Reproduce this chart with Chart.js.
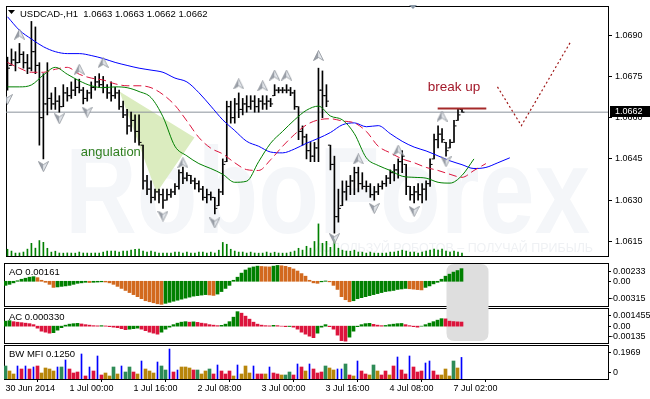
<!DOCTYPE html>
<html>
<head>
<meta charset="utf-8">
<script src="https://cdn.jsdelivr.net/npm/chart.js@4.4.1/dist/chart.umd.min.js"></script>
<style>
  html, body { margin: 0; padding: 0; background: #fff; }
  #wrap { position: relative; width: 650px; height: 399px; overflow: hidden; background: #fff; }
  #wrap canvas { position: absolute; left: 0; }
</style>
</head>
<body>
<div id="wrap">
  <canvas id="c-main" width="650" height="262" style="top:0"></canvas>
  <canvas id="c-ao" width="650" height="45" style="top:262px"></canvas>
  <canvas id="c-ac" width="650" height="37" style="top:307px"></canvas>
  <canvas id="c-mfi" width="650" height="56" style="top:344px"></canvas>
</div>
<script>
// USDCAD H1, 115 bars, axis labels every 16 bars
const SYMBOL = 'USDCAD-,H1';
const xLabels    = ['30 Jun 2014', '1 Jul 00:00', '1 Jul 16:00', '2 Jul 08:00', '3 Jul 00:00', '3 Jul 16:00', '4 Jul 08:00', '7 Jul 02:00'];
const xLabelBars = [0, 16, 32, 48, 64, 80, 96, 112];
const priceTicks = [1.0615, 1.0630, 1.0645, 1.0660, 1.0675, 1.0690];

const opens = [
  1.0680, 1.0679, 1.0681, 1.0680, 1.0683, 1.0680, 1.0678, 1.0684, 1.0679, 1.0660,
  1.0665, 1.0667, 1.0665, 1.0666, 1.0664, 1.0669, 1.0668, 1.0670, 1.0671, 1.0670,
  1.0667, 1.0669, 1.0671, 1.0673, 1.0672, 1.0671, 1.0669, 1.0668, 1.0669, 1.0664,
  1.0661, 1.0657, 1.0659, 1.0655, 1.0650, 1.0637, 1.0634, 1.0631, 1.0633, 1.0632,
  1.0630, 1.0632, 1.0633, 1.0635, 1.0640, 1.0638, 1.0639, 1.0637, 1.0636, 1.0634,
  1.0631, 1.0632, 1.0631, 1.0628, 1.0633, 1.0644, 1.0664, 1.0660, 1.0665, 1.0663,
  1.0665, 1.0664, 1.0666, 1.0664, 1.0666, 1.0665, 1.0666, 1.0668, 1.0670, 1.0670,
  1.0670, 1.0670, 1.0669, 1.0664, 1.0655, 1.0653, 1.0648, 1.0646, 1.0649, 1.0670,
  1.0668, 1.0650, 1.0643, 1.0624, 1.0628, 1.0633, 1.0635, 1.0637, 1.0640, 1.0636,
  1.0635, 1.0635, 1.0632, 1.0633, 1.0635, 1.0636, 1.0638, 1.0640, 1.0641, 1.0644,
  1.0643, 1.0635, 1.0632, 1.0633, 1.0632, 1.0634, 1.0636, 1.0645, 1.0652, 1.0654,
  1.0651, 1.0649, 1.0651, 1.0659, 1.0663
];
const highs = [
  1.0682, 1.0685, 1.0684, 1.0687, 1.0684, 1.0683, 1.0695, 1.0693, 1.0680, 1.0676,
  1.0680, 1.0669, 1.0671, 1.0668, 1.0672, 1.0671, 1.0673, 1.0674, 1.0674, 1.0671,
  1.0670, 1.0673, 1.0675, 1.0676, 1.0675, 1.0672, 1.0673, 1.0671, 1.0670, 1.0666,
  1.0663, 1.0662, 1.0661, 1.0661, 1.0650, 1.0639, 1.0637, 1.0634, 1.0634, 1.0634,
  1.0634, 1.0634, 1.0636, 1.0641, 1.0642, 1.0640, 1.0639, 1.0638, 1.0637, 1.0635,
  1.0634, 1.0633, 1.0631, 1.0634, 1.0645, 1.0666, 1.0666, 1.0667, 1.0669, 1.0667,
  1.0668, 1.0668, 1.0668, 1.0667, 1.0668, 1.0668, 1.0667, 1.0672, 1.0671, 1.0671,
  1.0672, 1.0671, 1.0670, 1.0664, 1.0657, 1.0654, 1.0651, 1.0651, 1.0678, 1.0677,
  1.0672, 1.0650, 1.0646, 1.0634, 1.0637, 1.0637, 1.0639, 1.0642, 1.0642, 1.0640,
  1.0637, 1.0636, 1.0635, 1.0636, 1.0637, 1.0639, 1.0641, 1.0643, 1.0645, 1.0648,
  1.0643, 1.0635, 1.0635, 1.0636, 1.0636, 1.0637, 1.0645, 1.0654, 1.0657, 1.0656,
  1.0651, 1.0652, 1.0659, 1.0663, 1.0663
];
const lows = [
  1.0670, 1.0679, 1.0677, 1.0680, 1.0678, 1.0676, 1.0677, 1.0676, 1.0650, 1.0645,
  1.0661, 1.0663, 1.0663, 1.0662, 1.0664, 1.0666, 1.0667, 1.0668, 1.0669, 1.0665,
  1.0666, 1.0667, 1.0670, 1.0671, 1.0669, 1.0667, 1.0666, 1.0667, 1.0663, 1.0660,
  1.0654, 1.0655, 1.0651, 1.0650, 1.0634, 1.0632, 1.0629, 1.0630, 1.0629, 1.0627,
  1.0630, 1.0631, 1.0632, 1.0634, 1.0636, 1.0637, 1.0636, 1.0634, 1.0633, 1.0630,
  1.0629, 1.0630, 1.0625, 1.0628, 1.0632, 1.0644, 1.0658, 1.0658, 1.0660, 1.0661,
  1.0662, 1.0663, 1.0662, 1.0662, 1.0663, 1.0663, 1.0664, 1.0668, 1.0669, 1.0669,
  1.0669, 1.0668, 1.0663, 1.0652, 1.0650, 1.0645, 1.0644, 1.0644, 1.0644, 1.0660,
  1.0664, 1.0641, 1.0618, 1.0622, 1.0628, 1.0630, 1.0632, 1.0632, 1.0633, 1.0634,
  1.0633, 1.0631, 1.0630, 1.0632, 1.0634, 1.0635, 1.0636, 1.0637, 1.0638, 1.0640,
  1.0632, 1.0630, 1.0629, 1.0630, 1.0629, 1.0630, 1.0635, 1.0645, 1.0649, 1.0651,
  1.0646, 1.0649, 1.0651, 1.0659, 1.0662
];
const closes = [
  1.0678, 1.0681, 1.0680, 1.0683, 1.0680, 1.0678, 1.0684, 1.0679, 1.0660, 1.0665,
  1.0667, 1.0665, 1.0666, 1.0664, 1.0669, 1.0668, 1.0670, 1.0671, 1.0670, 1.0667,
  1.0669, 1.0671, 1.0673, 1.0672, 1.0671, 1.0669, 1.0668, 1.0669, 1.0664, 1.0661,
  1.0657, 1.0659, 1.0655, 1.0651, 1.0637, 1.0634, 1.0631, 1.0633, 1.0632, 1.0630,
  1.0632, 1.0633, 1.0635, 1.0640, 1.0638, 1.0639, 1.0637, 1.0636, 1.0634, 1.0631,
  1.0632, 1.0631, 1.0627, 1.0633, 1.0643, 1.0664, 1.0660, 1.0665, 1.0663, 1.0665,
  1.0664, 1.0666, 1.0664, 1.0666, 1.0665, 1.0666, 1.0665, 1.0670, 1.0670, 1.0670,
  1.0670, 1.0669, 1.0664, 1.0655, 1.0653, 1.0648, 1.0646, 1.0649, 1.0670, 1.0668,
  1.0666, 1.0643, 1.0624, 1.0627, 1.0633, 1.0635, 1.0637, 1.0640, 1.0636, 1.0635,
  1.0635, 1.0632, 1.0633, 1.0635, 1.0636, 1.0638, 1.0640, 1.0641, 1.0644, 1.0646,
  1.0635, 1.0632, 1.0633, 1.0632, 1.0634, 1.0636, 1.0643, 1.0652, 1.0654, 1.0652,
  1.0648, 1.0651, 1.0657, 1.0661, 1.0662
];
const volumes = [
  1040, 760, 450, 470, 610, 1060, 1950, 1210, 2380, 2110,
  1190, 600, 740, 460, 440, 470, 450, 440, 610, 460,
  450, 440, 460, 450, 600, 760, 740, 750, 610, 750,
  760, 900, 1040, 1060, 750, 600, 760, 590, 450, 460,
  440, 460, 610, 600, 450, 600, 460, 450, 610, 590,
  440, 600, 460, 900, 2090, 1810, 1040, 760, 600, 610,
  450, 600, 460, 440, 450, 610, 450, 590, 460, 440,
  450, 600, 760, 1190, 910, 1500, 1210, 2240, 4950, 1960,
  2260, 1340, 2550, 1200, 900, 760, 740, 900, 610, 590,
  450, 600, 460, 440, 450, 460, 600, 610, 750, 900,
  760, 600, 610, 450, 600, 740, 910, 1050, 900, 1060,
  750, 600, 760, 600, 450
];

// Alligator lines, one value every MA_STEP bars (shifted forward past the last bar)
const MA_STEP = 3;
const jaw = [
  1.06967, 1.06918, 1.06886, 1.06858, 1.06840, 1.06833, 1.06833, 1.06826, 1.06815, 1.06801,
  1.06790, 1.06780, 1.06773, 1.06765, 1.06744, 1.06730, 1.06691, 1.06642, 1.06592, 1.06553,
  1.06514, 1.06496, 1.06475, 1.06472, 1.06486, 1.06507, 1.06525, 1.06546, 1.06574, 1.06581,
  1.06567, 1.06571, 1.06542, 1.06514, 1.06493, 1.06479, 1.06461, 1.06443, 1.06429, 1.06415,
  1.06419, 1.06436, 1.06454
];
const teeth = [
  1.06801, 1.06780, 1.06765, 1.06765, 1.06776, 1.06783, 1.06758, 1.06744, 1.06737, 1.06723,
  1.06716, 1.06716, 1.06709, 1.06684, 1.06645, 1.06588, 1.06528, 1.06489, 1.06468, 1.06436,
  1.06411, 1.06408, 1.06447, 1.06496, 1.06539, 1.06574, 1.06592, 1.06596, 1.06588, 1.06581,
  1.06550, 1.06496, 1.06472, 1.06450, 1.06436, 1.06419, 1.06408, 1.06394, 1.06383, 1.06408,
  1.06433
];
const lips = [
  1.06712, 1.06712, 1.06719, 1.06755, 1.06783, 1.06758, 1.06734, 1.06716, 1.06709, 1.06712,
  1.06709, 1.06695, 1.06673, 1.06603, 1.06496, 1.06461, 1.06433, 1.06415, 1.06394, 1.06365,
  1.06369, 1.06440, 1.06507, 1.06550, 1.06592, 1.06627, 1.06642, 1.06606, 1.06592, 1.06542,
  1.06454, 1.06426, 1.06408, 1.06387, 1.06383, 1.06380, 1.06365, 1.06362, 1.06390, 1.06450
];

const aoValues = [
  -0.00052, -0.00039, -0.00020, 0.00007, 0.00026, 0.00039, 0.00052, 0.00059, 0.00046, 0.00013,
  -0.00013, -0.00039, -0.00078, -0.00072, -0.00065, -0.00059, -0.00052, -0.00039, -0.00026, -0.00020,
  -0.00013, -0.00016, -0.00013, -0.00010, -0.00007, -0.00009, -0.00020, -0.00039, -0.00065, -0.00091,
  -0.00117, -0.00144, -0.00170, -0.00196, -0.00222, -0.00248, -0.00261, -0.00274, -0.00287, -0.00294,
  -0.00281, -0.00268, -0.00254, -0.00241, -0.00228, -0.00215, -0.00202, -0.00189, -0.00183, -0.00176,
  -0.00170, -0.00174, -0.00180, -0.00163, -0.00131, -0.00091, -0.00052, 0.00013, 0.00052, 0.00104,
  0.00144, 0.00170, 0.00183, 0.00193, 0.00189, 0.00185, 0.00183, 0.00193, 0.00202, 0.00198,
  0.00191, 0.00177, 0.00157, 0.00131, 0.00098, 0.00065, 0.00013, -0.00020, -0.00026, -0.00007,
  0.00004, -0.00007, -0.00052, -0.00104, -0.00196, -0.00235, -0.00261, -0.00248, -0.00222, -0.00209,
  -0.00196, -0.00183, -0.00170, -0.00157, -0.00144, -0.00131, -0.00124, -0.00117, -0.00104, -0.00098,
  -0.00091, -0.00095, -0.00100, -0.00106, -0.00110, -0.00078, -0.00059, -0.00033, -0.00013, 0.00026,
  0.00065, 0.00091, 0.00117, 0.00137, 0.00161
];
const acValues = [
  0.000401, 0.000441, 0.000360, 0.000320, 0.000280, 0.000240, 0.000200, 0.000120, -0.000160, -0.000401,
  -0.000481, -0.000561, -0.000521, -0.000320, -0.000120, 0.000080, 0.000160, 0.000200, 0.000224, 0.000176,
  0.000120, 0.000080, 0.000040, 0.000024, 0.000040, 0.000016, -0.000040, -0.000080, -0.000120, -0.000200,
  -0.000280, -0.000240, -0.000200, -0.000160, -0.000240, -0.000360, -0.000481, -0.000561, -0.000641, -0.000481,
  -0.000240, -0.000080, 0.000120, 0.000240, 0.000320, 0.000360, 0.000320, 0.000344, 0.000304, 0.000240,
  0.000200, 0.000120, 0.000080, 0.000040, 0.000064, 0.000160, 0.000360, 0.000721, 0.001161, 0.001041,
  0.000801, 0.000561, 0.000320, 0.000160, 0.000080, 0.000040, 0.000024, 0.000064, 0.000040, 0.000000,
  -0.000040, -0.000024, -0.000080, -0.000240, -0.000481, -0.000641, -0.000801, -0.000921, -0.000561, -0.000080,
  0.000120, -0.000040, -0.000240, -0.000721, -0.001161, -0.001202, -0.000881, -0.000401, -0.000040, 0.000120,
  0.000200, 0.000224, 0.000144, 0.000080, 0.000040, 0.000056, 0.000120, 0.000160, 0.000200, 0.000216,
  0.000120, 0.000040, -0.000040, -0.000080, 0.000000, 0.000120, 0.000240, 0.000360, 0.000481, 0.000601,
  0.000585, 0.000401, 0.000368, 0.000344, 0.000330
];
const mfiValues = [
  0.0753, 0.0463, 0.0290, 0.0753, 0.0579, 0.0753, 0.0579, 0.0695, 0.0753, 0.0347,
  0.0637, 0.0579, 0.0463, 0.0695, 0.0695, 0.1100, 0.0579, 0.0347, 0.0405, 0.1448,
  0.0174, 0.0695, 0.0463, 0.1332, 0.0232, 0.0347, 0.0174, 0.0695, 0.0290, 0.0753,
  0.0405, 0.0695, 0.0405, 0.0290, 0.1042, 0.0579, 0.0463, 0.0347, 0.0984, 0.0753,
  0.0521, 0.1737, 0.0405, 0.0521, 0.0695, 0.0695, 0.0637, 0.0521, 0.0521, 0.0290,
  0.0463, 0.0579, 0.0290, 0.0811, 0.0463, 0.0290, 0.0463, 0.0174, 0.0811, 0.0290,
  0.0753, 0.0347, 0.0753, 0.0290, 0.0290, 0.0290, 0.0695, 0.0347, 0.0290, 0.0232,
  0.0232, 0.0405, 0.0232, 0.0869, 0.0695, 0.0463, 0.0869, 0.0579, 0.0347, 0.0405,
  0.0753, 0.0637, 0.0521, 0.0579, 0.0579, 0.0869, 0.0232, 0.0174, 0.1042, 0.0463,
  0.0290, 0.0232, 0.0811, 0.0463, 0.0232, 0.0463, 0.0232, 0.0753, 0.1274, 0.0521,
  0.0290, 0.1332, 0.0695, 0.0405, 0.0463, 0.0926, 0.1042, 0.0463, 0.0232, 0.0232,
  0.0579, 0.0174, 0.1042, 0.0637, 0.1250
];
// G = green, F = fade, B = fake, S = squat
const mfiZones = ('GFFBSBSBSF' + 'FFFBGBSSSB' + 'SBSBSFFGFB' + 'GGSFBFFFBG' + 'GBSBFFFSGF' +
                  'FGSBSSSFBF' + 'FFBSSFBSSF' + 'GGSBSFBSSS' + 'GFFBBGSFBS' + 'SFGFSSFSBS' +
                  'SBSSSBBSSF' + 'FFGFB').split('');

const fractalUp   = [[3, 1.06904], [18, 1.06776], [24, 1.06801], [44, 1.06436], [58, 1.06723], [64, 1.06716],
                     [67, 1.06755], [70, 1.06755], [78, 1.06826], [88, 1.06450], [98, 1.06482], [109, 1.06606]];
const fractalDown = [[0, 1.06666], [9, 1.06422], [13, 1.06596], [20, 1.06620], [39, 1.06242], [52, 1.06217],
                     [82, 1.06160], [92, 1.06270], [102, 1.06259], [110, 1.06440]];

// hand-drawn objects on the chart (bar index, price)
const angulationArea = [[28.1, 1.06695], [46.9, 1.06528], [37.4, 1.06327], [28.1, 1.06695]];
const breakUpLine    = [[107.9, 1.06633], [120.1, 1.06633]];
const projection     = [[122.9, 1.06712], [128.9, 1.06571], [141.1, 1.06872]];
const angulationText = [18.4, 1.06475];
const breakUpText    = [105.4, 1.06709];
const highlightBars  = [110.25, 120.75];

const aoRange  = [-0.00315, 0.00233];
const acRange  = [-0.00135, 0.001455];
const mfiRange = [0, 0.1969];

const X_MIN = -0.375, X_MAX = 150.625;
const PRICE_MIN = 1.060969, PRICE_MAX = 1.070061;
const VOLUME_MAX = 38550;

const FAMILY = '"Liberation Sans", Arial, sans-serif';
const AXIS_FONT = { family: FAMILY, size: 9 };
const last = closes.length - 1;
const lastPrice = closes[last];

function fmt(v) { return v.toFixed(4); }

function arrowImage(up) {
    const c = document.createElement('canvas');
    c.width = 11; c.height = 11;
    const g = c.getContext('2d');
    if (!up) { g.translate(0, 11); g.scale(1, -1); }
    g.beginPath(); g.moveTo(5.5, 0.5); g.lineTo(0.5, 10.5); g.lineTo(5.5, 7.5); g.closePath();
    g.fillStyle = '#9a9fa8'; g.fill();
    g.beginPath(); g.moveTo(5.5, 0.5); g.lineTo(10.5, 10.5); g.lineTo(5.5, 7.5); g.closePath();
    g.fillStyle = '#e4e7ec'; g.fill();
    g.beginPath(); g.moveTo(5.5, 0.5); g.lineTo(10.5, 10.5); g.lineTo(5.5, 7.5); g.lineTo(0.5, 10.5); g.closePath();
    g.strokeStyle = '#8b9098'; g.lineWidth = 0.8; g.stroke();
    return c;
}

function frame(chart) {
    const { ctx, chartArea: a } = chart;
    ctx.save();
    ctx.strokeStyle = '#000';
    ctx.lineWidth = 1;
    ctx.strokeRect(a.left + 0.5, a.top + 0.5, a.right - a.left, a.bottom - a.top);
    ctx.restore();
}

function panelTitle(chart, text) {
    const { ctx, chartArea: a } = chart;
    ctx.save();
    ctx.font = `9.5px ${FAMILY}`;
    ctx.fillStyle = '#000';
    ctx.textBaseline = 'middle';
    ctx.fillText(text, 9, a.top + 9);
    ctx.restore();
}

function sideLabels(chart, items) {
    const { ctx, chartArea: a } = chart;
    ctx.save();
    ctx.font = `9px ${FAMILY}`;
    ctx.fillStyle = '#000';
    ctx.strokeStyle = '#000';
    ctx.textBaseline = 'middle';
    for (const [text, py] of items) {
        const yy = Math.round(py) + 0.5;
        ctx.beginPath(); ctx.moveTo(a.right, yy); ctx.lineTo(a.right + 3, yy); ctx.stroke();
        ctx.fillText(text, a.right + (text[0] === '-' ? 2 : 5), yy);
    }
    ctx.restore();
}

function highlight(chart, pageTop) {
    // grey rounded box behind the last AO / AC bars, spans both panels
    const { ctx, scales: { x } } = chart;
    const x0 = x.getPixelForValue(highlightBars[0]), x1 = x.getPixelForValue(highlightBars[1]);
    const y0 = 264 - pageTop, y1 = 341 - pageTop, r = 8;
    ctx.save();
    ctx.fillStyle = '#dedede';
    ctx.beginPath();
    ctx.moveTo(x0 + r, y0); ctx.lineTo(x1 - r, y0); ctx.quadraticCurveTo(x1, y0, x1, y0 + r);
    ctx.lineTo(x1, y1 - r); ctx.quadraticCurveTo(x1, y1, x1 - r, y1);
    ctx.lineTo(x0 + r, y1); ctx.quadraticCurveTo(x0, y1, x0, y1 - r);
    ctx.lineTo(x0, y0 + r); ctx.quadraticCurveTo(x0, y0, x0 + r, y0);
    ctx.fill();
    ctx.restore();
}

function baseOptions(yMin, yMax, padTop, padBottom) {
    return {
        responsive: false,
        animation: false,
        devicePixelRatio: 1,
        events: [],
        layout: { padding: { left: 4, right: 42, top: padTop, bottom: padBottom } },
        plugins: { legend: { display: false }, tooltip: { enabled: false } },
        scales: {
            x: { type: 'linear', min: X_MIN, max: X_MAX, offset: false, display: false },
            y: { type: 'linear', min: yMin, max: yMax, display: false }
        }
    };
}

const upArrow = arrowImage(true);
const downArrow = arrowImage(false);

// ---------- main price panel ----------
const mainOptions = baseOptions(PRICE_MIN, PRICE_MAX, 4, 1);
mainOptions.layout.padding.right = 0;
mainOptions.scales.y = {
    type: 'linear', position: 'right', min: PRICE_MIN, max: PRICE_MAX,
    afterBuildTicks: s => { s.ticks = priceTicks.map(value => ({ value })); },
    afterFit: s => { s.width = 42; s.paddingTop = 0; s.paddingBottom = 0; },
    grid: { drawOnChartArea: false, drawTicks: true, tickLength: 4, color: '#000' },
    border: { display: false },
    ticks: { padding: 3, color: '#000', font: AXIS_FONT, callback: v => fmt(v) }
};
mainOptions.scales.vol = { type: 'linear', min: 0, max: VOLUME_MAX, display: false };

new Chart(document.getElementById('c-main'), {
    type: 'bar',
    data: {
        datasets: [
            { type: 'line', data: angulationArea.map(([x, y]) => ({ x, y })), fill: 'shape',
              backgroundColor: '#dbecbf', borderWidth: 0, pointRadius: 0, order: 20 },
            { type: 'bar', yAxisID: 'vol', data: volumes.map((v, i) => ({ x: i, y: v })),
              backgroundColor: '#008000', barThickness: 1, maxBarThickness: 1, grouped: false, order: 18 },
            { type: 'line', data: [{ x: X_MIN, y: lastPrice }, { x: X_MAX, y: lastPrice }],
              borderColor: '#8a929b', borderWidth: 1, pointRadius: 0, order: 16 },
            { type: 'bar', data: highs.map((h, i) => ({ x: i, y: [lows[i], h] })),
              backgroundColor: '#000', barThickness: 1, maxBarThickness: 1, grouped: false, order: 8 },
            { type: 'scatter', data: opens.map((o, i) => ({ x: i - 0.375, y: o })),
              pointStyle: 'line', pointRadius: 1, borderColor: '#000', borderWidth: 1, order: 7 },
            { type: 'scatter', data: closes.map((c, i) => ({ x: i + 0.375, y: c })),
              pointStyle: 'line', pointRadius: 1, borderColor: '#000', borderWidth: 1, order: 7 },
            { type: 'line', data: jaw.map((v, k) => ({ x: k * MA_STEP, y: v })), borderColor: '#0000ff',
              borderWidth: 1, pointRadius: 0, cubicInterpolationMode: 'monotone', order: 5 },
            { type: 'line', data: teeth.map((v, k) => ({ x: k * MA_STEP, y: v })), borderColor: '#dc143c',
              borderWidth: 1, borderDash: [8, 4], pointRadius: 0, cubicInterpolationMode: 'monotone', order: 4 },
            { type: 'line', data: lips.map((v, k) => ({ x: k * MA_STEP, y: v })), borderColor: '#008000',
              borderWidth: 1, pointRadius: 0, cubicInterpolationMode: 'monotone', order: 3 },
            { type: 'line', data: breakUpLine.map(([x, y]) => ({ x, y })), borderColor: '#a52a2a',
              borderWidth: 2, pointRadius: 0, order: 2 },
            { type: 'line', data: projection.map(([x, y]) => ({ x, y })), borderColor: '#a01818',
              borderWidth: 1.2, borderDash: [2, 2.5], pointRadius: 0, order: 2 },
            { type: 'scatter', data: fractalUp.map(([x, y]) => ({ x, y })), pointStyle: upArrow,
              pointRadius: 5, order: 1 },
            { type: 'scatter', data: fractalDown.map(([x, y]) => ({ x, y })), pointStyle: downArrow,
              pointRadius: 5, order: 1 }
        ]
    },
    options: mainOptions,
    plugins: [{
        id: 'mainDecor',
        beforeDatasetsDraw(chart) {
            const { ctx, chartArea: a } = chart;
            ctx.save();
            ctx.beginPath(); ctx.rect(a.left, a.top, a.right - a.left, a.bottom - a.top); ctx.clip();
            ctx.textBaseline = 'alphabetic';
            ctx.fillStyle = '#f4f6f9';
            ctx.font = `bold 123px ${FAMILY}`;
            let w = ctx.measureText('RoboForex').width;
            ctx.save(); ctx.translate(65, 233); ctx.scale(525 / w, 1); ctx.fillText('RoboForex', 0, 0); ctx.restore();
            const sub = 'ИСПОЛЬЗУЙ РОБОТОВ – ПОЛУЧАЙ ПРИБЫЛЬ';
            ctx.fillStyle = '#eff1f4';
            ctx.font = `12px ${FAMILY}`;
            w = ctx.measureText(sub).width;
            ctx.save(); ctx.translate(313, 252); ctx.scale(280 / w, 1); ctx.fillText(sub, 0, 0); ctx.restore();
            ctx.restore();
            frame(chart);
        },
        afterDatasetsDraw(chart) {
            const { ctx, chartArea: a, scales: { x, y } } = chart;
            ctx.save();
            // symbol header
            ctx.fillStyle = '#000';
            ctx.beginPath(); ctx.moveTo(8, 10); ctx.lineTo(15, 10); ctx.lineTo(11.5, 14); ctx.closePath(); ctx.fill();
            ctx.font = `9.5px ${FAMILY}`;
            ctx.textBaseline = 'middle';
            ctx.fillText(`${SYMBOL}  ${fmt(opens[last])} ${fmt(highs[last])} ${fmt(lows[last])} ${fmt(closes[last])}`, 20, a.top + 8.5);
            // chart shift marker
            ctx.fillStyle = '#8796a5';
            ctx.beginPath(); ctx.moveTo(409, 5); ctx.lineTo(417, 5); ctx.lineTo(413, 9); ctx.closePath(); ctx.fill();
            // text objects
            ctx.font = `13px ${FAMILY}`;
            ctx.fillStyle = '#2f7f1f';
            ctx.fillText('angulation', x.getPixelForValue(angulationText[0]), y.getPixelForValue(angulationText[1]));
            ctx.font = `13.5px ${FAMILY}`;
            ctx.fillStyle = '#a3192a';
            ctx.fillText('break up', x.getPixelForValue(breakUpText[0]), y.getPixelForValue(breakUpText[1]));
            ctx.restore();
        },
        afterDraw(chart) {
            const { ctx, chartArea: a, scales: { y } } = chart;
            const py = Math.round(y.getPixelForValue(lastPrice));
            ctx.save();
            ctx.fillStyle = '#000';
            ctx.fillRect(a.right + 2, py - 6, 40, 11);
            ctx.fillStyle = '#fff';
            ctx.font = `9px ${FAMILY}`;
            ctx.textBaseline = 'middle';
            ctx.fillText(fmt(lastPrice), a.right + 7, py);
            ctx.restore();
        }
    }]
});

// ---------- AO ----------
const AO_UP = '#008000', AO_DOWN = '#d2691e';
new Chart(document.getElementById('c-ao'), {
    type: 'bar',
    data: {
        datasets: [{
            data: aoValues.map((v, i) => ({ x: i, y: v })),
            backgroundColor: aoValues.map((v, i) => (i === 0 || v >= aoValues[i - 1]) ? AO_UP : AO_DOWN),
            barThickness: 3, maxBarThickness: 3, grouped: false
        }]
    },
    options: baseOptions(aoRange[0], aoRange[1], 1, 1),
    plugins: [{
        id: 'aoDecor',
        beforeDatasetsDraw(chart) { frame(chart); highlight(chart, 262); },
        afterDatasetsDraw(chart) {
            const { chartArea: a, scales: { y } } = chart;
            panelTitle(chart, `AO ${aoValues[last].toFixed(5)}`);
            sideLabels(chart, [[String(aoRange[1]), a.top + 8], ['0.00', y.getPixelForValue(0)], [String(aoRange[0]), a.bottom - 8]]);
        }
    }]
});

// ---------- AC ----------
const AC_UP = '#008000', AC_DOWN = '#dc143c';
new Chart(document.getElementById('c-ac'), {
    type: 'bar',
    data: {
        datasets: [{
            data: acValues.map((v, i) => ({ x: i, y: v })),
            backgroundColor: acValues.map((v, i) => (i === 0 || v >= acValues[i - 1]) ? AC_UP : AC_DOWN),
            barThickness: 3, maxBarThickness: 3, grouped: false
        }]
    },
    options: baseOptions(acRange[0], acRange[1], 1, 1),
    plugins: [{
        id: 'acDecor',
        beforeDatasetsDraw(chart) { frame(chart); highlight(chart, 307); },
        afterDatasetsDraw(chart) {
            const { chartArea: a, scales: { y } } = chart;
            panelTitle(chart, `AC ${acValues[last].toFixed(6)}`);
            sideLabels(chart, [[String(acRange[1]), a.top + 7], ['0.00', y.getPixelForValue(0)], [String(acRange[0]), a.bottom - 7]]);
        }
    }]
});

// ---------- BW MFI ----------
const ZONE_COLORS = { G: '#2e8b57', F: '#b8860b', B: '#0000ff', S: '#dc143c' };
const thick = mfiValues.map((v, i) => ({ x: i, y: v, z: mfiZones[i] })).filter(p => p.z !== 'B');
const thin  = mfiValues.map((v, i) => ({ x: i, y: v, z: mfiZones[i] })).filter(p => p.z === 'B');

const mfiOptions = baseOptions(mfiRange[0], mfiRange[1], 1, 0);
mfiOptions.scales.x = {
    type: 'linear', min: X_MIN, max: X_MAX, offset: false, position: 'bottom',
    afterBuildTicks: s => { s.ticks = xLabelBars.map(value => ({ value })); },
    afterFit: s => { s.height = 21; s.paddingLeft = 0; s.paddingRight = 0; },
    grid: { drawOnChartArea: false, drawTicks: true, tickLength: 3, color: '#000' },
    border: { display: false },
    ticks: { autoSkip: false, maxRotation: 0, minRotation: 0, align: 'start', padding: 1,
             color: '#000', font: AXIS_FONT, callback: (v, i) => xLabels[i] }
};

new Chart(document.getElementById('c-mfi'), {
    type: 'bar',
    data: {
        datasets: [
            { data: thick, backgroundColor: thick.map(p => ZONE_COLORS[p.z]),
              barThickness: 3, maxBarThickness: 3, grouped: false },
            { data: thin, backgroundColor: ZONE_COLORS.B,
              barThickness: 1, maxBarThickness: 1, grouped: false }
        ]
    },
    options: mfiOptions,
    plugins: [{
        id: 'mfiDecor',
        beforeDatasetsDraw(chart) { frame(chart); },
        afterDatasetsDraw(chart) {
            const { chartArea: a } = chart;
            panelTitle(chart, `BW MFI ${mfiValues[last].toFixed(4)}`);
            sideLabels(chart, [[String(mfiRange[1]), a.top + 7], [String(mfiRange[0]), a.bottom - 7]]);
        }
    }]
});
</script>
</body>
</html>
